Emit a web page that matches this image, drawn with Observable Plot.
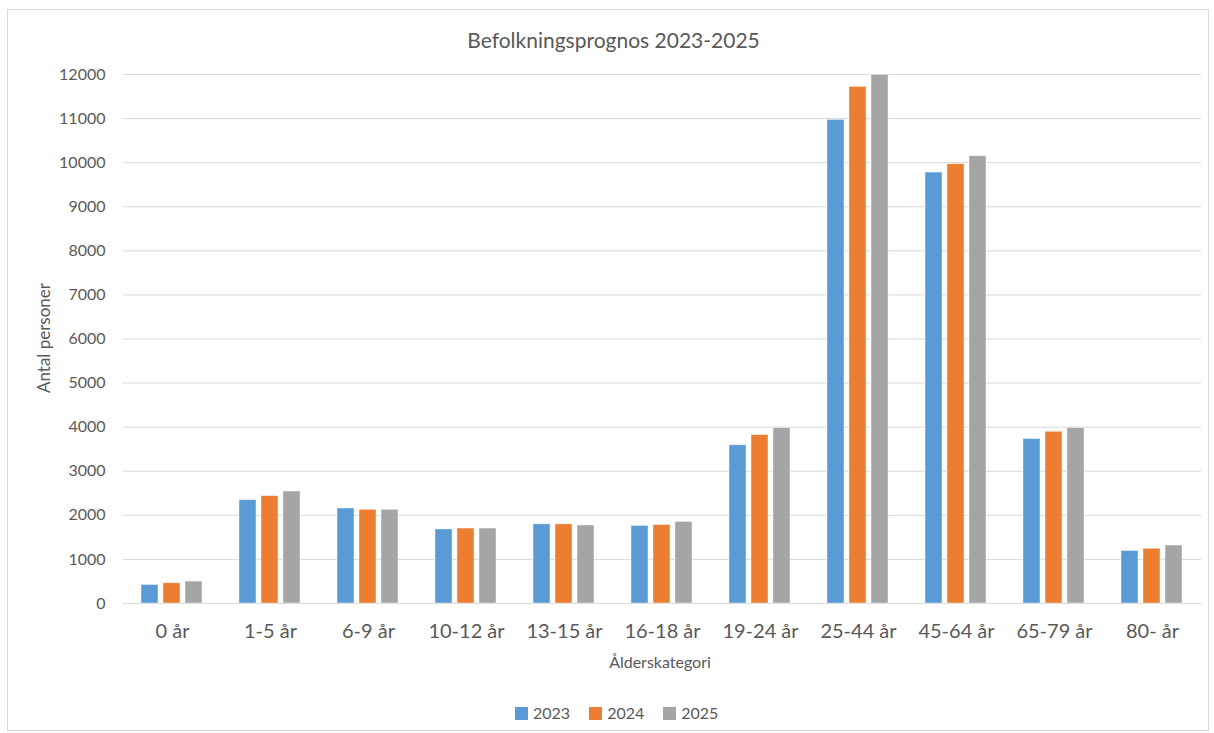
<!DOCTYPE html>
<html>
<head>
<meta charset="utf-8">
<script src="https://cdn.jsdelivr.net/npm/d3@7"></script>
<script src="https://cdn.jsdelivr.net/npm/@observablehq/plot@0.6"></script>
<style>
  html, body { margin: 0; padding: 0; background: #fff; }
  body { width: 1214px; height: 733px; position: relative; overflow: hidden; font-family: Lato, "Open Sans", sans-serif; color: #595959; }
  #frame { position: absolute; left: 7px; top: 9px; width: 1202px; height: 722px; border: 1px solid #D9D9D9; box-sizing: border-box; }
  #title { position: absolute; left: 0; width: 1227px; top: 27px; text-align: center; font-size: 21px; line-height: 26px; }
  #ytitle { position: absolute; left: 43px; top: 338px; transform: translate(-50%, -50%) rotate(-90deg); font-size: 17px; white-space: nowrap; }
  #xtitle { position: absolute; left: 0; width: 1320px; top: 651px; text-align: center; font-size: 16px; line-height: 22px; }
  #chart { position: absolute; left: 0; top: 55px; }
  #legend { position: absolute; left: 515px; top: 702px; display: flex; align-items: center; font-size: 16px; line-height: 22px; }
  #legend .item { display: flex; align-items: center; margin-right: 19px; }
  #legend .sw { width: 13px; height: 13px; margin-right: 5px; }
  g[aria-label^="fx-axis"] text { font-size: 20px; }
</style>
</head>
<body>
<div id="frame"></div>
<div id="title">Befolkningsprognos 2023-2025</div>
<div id="ytitle">Antal personer</div>
<div id="chart"></div>
<div id="xtitle">Ålderskategori</div>
<div id="legend"></div>
<script>
const categories = ["0 år", "1-5 år", "6-9 år", "10-12 år", "13-15 år", "16-18 år", "19-24 år", "25-44 år", "45-64 år", "65-79 år", "80- år"];
const years = ["2023", "2024", "2025"];
const values2023 = [420, 2345, 2155, 1680, 1795, 1760, 3590, 10970, 9775, 3730, 1190];
const values2024 = [460, 2435, 2125, 1700, 1795, 1780, 3820, 11720, 9965, 3895, 1242];
const values2025 = [497, 2540, 2125, 1700, 1770, 1850, 3980, 11990, 10145, 3980, 1315];
const yTicks = [0, 1000, 2000, 3000, 4000, 5000, 6000, 7000, 8000, 9000, 10000, 11000, 12000];
const colors = ["#5B9BD5", "#ED7D31", "#A5A5A5"];

const series = [values2023, values2024, values2025];
const data = categories.flatMap((c, i) => years.map((y, j) => ({category: c, year: y, value: series[j][i]})));

const chart = Plot.plot({
  width: 1214,
  height: 593,
  marginTop: 19,
  marginBottom: 45,
  marginLeft: 123,
  marginRight: 13,
  style: {fontFamily: "Lato, 'Open Sans', sans-serif", fontSize: "16px", color: "#595959", background: "transparent", overflow: "visible"},
  fx: {domain: categories, padding: 0, label: null, tickSize: 0, tickPadding: 20},
  x: {domain: years, axis: null, paddingInner: 0.21, paddingOuter: 0.825},
  y: {domain: [0, 12000], ticks: yTicks, tickSize: 0, tickPadding: 18, label: null, tickFormat: d => String(d)},
  color: {domain: years, range: colors},
  marks: [
    Plot.ruleY(yTicks, {stroke: "#D9D9D9", strokeWidth: 1}),
    Plot.barY(data, {fx: "category", x: "year", y: "value", fill: "year", stroke: "white", strokeOpacity: 0.5, strokeWidth: 0.8})
  ]
});
document.getElementById("chart").appendChild(chart);

const legend = document.getElementById("legend");
years.forEach((y, j) => {
  const item = document.createElement("div");
  item.className = "item";
  const sw = document.createElement("div");
  sw.className = "sw";
  sw.style.background = colors[j];
  const t = document.createElement("span");
  t.textContent = y;
  item.appendChild(sw);
  item.appendChild(t);
  legend.appendChild(item);
});
</script>
</body>
</html>
